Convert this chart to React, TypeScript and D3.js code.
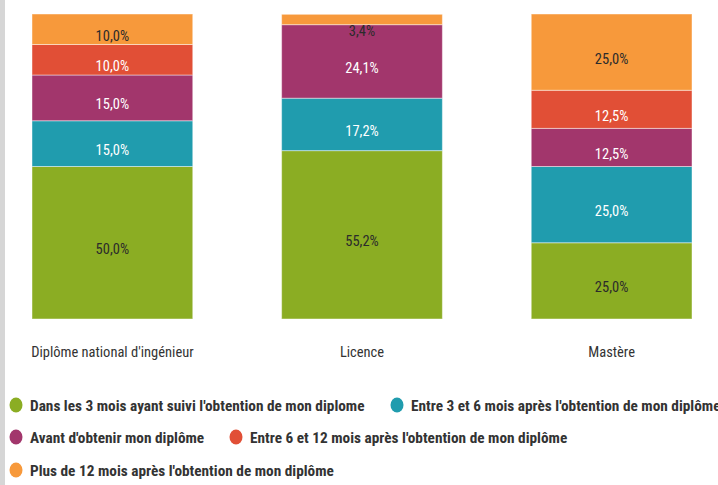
import { useEffect, useRef } from 'react';
import * as d3 from 'd3';

const categories = ["Diplôme national d'ingénieur", 'Licence', 'Mastère'];

const seriesNames = [
  "Dans les 3 mois ayant suivi l'obtention de mon diplome",
  "Entre 3 et 6 mois après l'obtention de mon diplôme",
  "Avant d'obtenir mon diplôme",
  "Entre 6 et 12 mois après l'obtention de mon diplôme",
  "Plus de 12 mois après l'obtention de mon diplôme",
];

// values per series, one per category (percent)
const dans3mois = [50.0, 55.2, 25.0];
const entre3et6 = [15.0, 17.2, 25.0];
const avant = [15.0, 24.1, 12.5];
const entre6et12 = [10.0, 0, 12.5];
const plus12 = [10.0, 3.4, 25.0];

const seriesValues = [dans3mois, entre3et6, avant, entre6et12, plus12];
const colors = ['#8bad23', '#209cae', '#a2366c', '#e14f36', '#f7993b'];
const labelColors = ['#2b2b2b', '#ffffff', '#ffffff', '#ffffff', '#2b2b2b'];

const W = 718;
const H = 485;
const FONT = '"Liberation Sans Narrow", "Arial Narrow", "Roboto Condensed", "Liberation Sans", Arial, sans-serif';

const App = () => {
  const svgRef = useRef<SVGSVGElement>(null);

  useEffect(() => {
    const svg = d3.select(svgRef.current);
    svg.selectAll('*').remove();

    svg.append('rect').attr('width', W).attr('height', H).attr('fill', '#ffffff');
    svg.append('rect').attr('width', 5).attr('height', H).attr('fill', '#d6d6d6');

    const x = d3.scaleBand().domain(categories).range([32, 692]).paddingInner(0.356).paddingOuter(0);
    const y = d3.scaleLinear().domain([0, 100]).range([319, 14]);

    const rows = categories.map((c, i) => {
      const r: any = { key: c };
      seriesNames.forEach((s, j) => (r[s] = seriesValues[j][i]));
      return r;
    });
    const stacked = d3.stack().keys(seriesNames)(rows);

    const layers = svg
      .selectAll('g.layer')
      .data(stacked)
      .join('g')
      .attr('class', 'layer');

    layers
      .selectAll('rect')
      .data((d, i) => d.filter(p => p[1] - p[0] > 0).map(p => ({ p, i })))
      .join('rect')
      .attr('x', d => x(d.p.data.key as string) as number)
      .attr('width', x.bandwidth())
      .attr('y', d => y(d.p[1]))
      .attr('height', d => y(d.p[0]) - y(d.p[1]))
      .attr('fill', d => colors[d.i])
      .attr('stroke', '#ffffff')
      .attr('stroke-opacity', 0.45)
      .attr('stroke-width', 1);

    layers
      .selectAll('text')
      .data((d, i) => d.filter(p => p[1] - p[0] > 0).map(p => ({ p, i })))
      .join('text')
      .attr('x', d => (x(d.p.data.key as string) as number) + x.bandwidth() / 2)
      .attr('y', d => {
        const top = y(d.p[1]);
        const mid = (y(d.p[0]) + top) / 2;
        return Math.max(mid + 6.5, top + 17) + 5;
      })
      .attr('text-anchor', 'middle')
      .attr('font-family', FONT)
      .attr('font-size', 14.5)
      .attr('fill', d => labelColors[d.i])
      .text(d => (d.p[1] - d.p[0]).toFixed(1).replace('.', ',') + '%');

    svg
      .selectAll('text.cat')
      .data(categories)
      .join('text')
      .attr('class', 'cat')
      .attr('x', d => (x(d) as number) + x.bandwidth() / 2)
      .attr('y', 357)
      .attr('text-anchor', 'middle')
      .attr('font-family', FONT)
      .attr('font-size', 14.5)
      .attr('fill', '#333333')
      .text(d => d);

    // legend
    const legendPos = [
      { x: 16, y: 405 },
      { x: 397, y: 405 },
      { x: 16, y: 437 },
      { x: 236, y: 437 },
      { x: 16, y: 470 },
    ];
    const legendOrder = [0, 1, 2, 3, 4];
    const items = svg
      .selectAll('g.legend-item')
      .data(legendOrder)
      .join('g')
      .attr('class', 'legend-item')
      .attr('transform', (d, i) => `translate(${legendPos[i].x},${legendPos[i].y})`);

    items.append('ellipse').attr('rx', 6.5).attr('ry', 7.5).attr('fill', d => colors[d]);
    items
      .append('text')
      .attr('x', 14)
      .attr('y', 5.5)
      .attr('font-family', FONT)
      .attr('font-size', 15.3)
      .attr('font-weight', 'bold')
      .attr('fill', '#333333')
      .text(d => seriesNames[d]);
  }, []);

  return (
    <svg
      ref={svgRef}
      width={W}
      height={H}
      style={{ position: 'absolute', left: 0, top: 0, display: 'block' }}
    />
  );
};

export default App;
